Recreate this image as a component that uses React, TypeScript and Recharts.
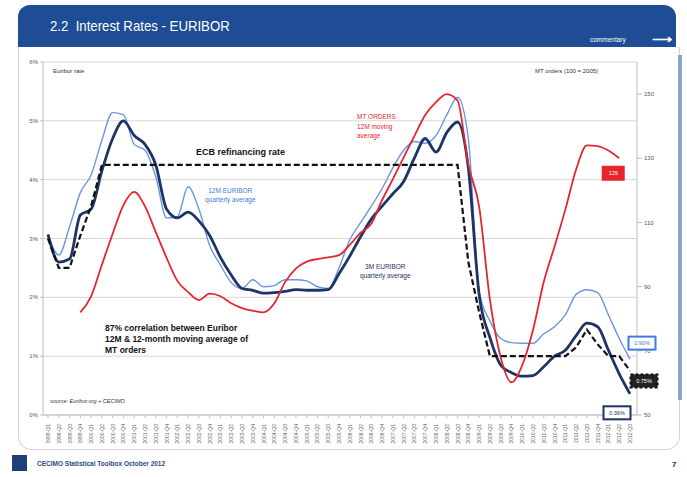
import React from "react";
import { LineChart, Line, XAxis, YAxis, CartesianGrid } from "recharts";

// quarterly averages, 1999-Q1 .. 2012-Q3
const quarters = [
  "1999-Q1", "1999-Q2", "1999-Q3", "1999-Q4",
  "2000-Q1", "2000-Q2", "2000-Q3", "2000-Q4",
  "2001-Q1", "2001-Q2", "2001-Q3", "2001-Q4",
  "2002-Q1", "2002-Q2", "2002-Q3", "2002-Q4",
  "2003-Q1", "2003-Q2", "2003-Q3", "2003-Q4",
  "2004-Q1", "2004-Q2", "2004-Q3", "2004-Q4",
  "2005-Q1", "2005-Q2", "2005-Q3", "2005-Q4",
  "2006-Q1", "2006-Q2", "2006-Q3", "2006-Q4",
  "2007-Q1", "2007-Q2", "2007-Q3", "2007-Q4",
  "2008-Q1", "2008-Q2", "2008-Q3", "2008-Q4",
  "2009-Q1", "2009-Q2", "2009-Q3", "2009-Q4",
  "2010-Q1", "2010-Q2", "2010-Q3", "2010-Q4",
  "2011-Q1", "2011-Q2", "2011-Q3", "2011-Q4",
  "2012-Q1", "2012-Q2", "2012-Q3",
];

const euribor3m = [
  3.07, 2.6, 2.65, 3.4, 3.5, 4.15, 4.7, 5.0, 4.75, 4.6,
  4.25, 3.5, 3.35, 3.45, 3.3, 3.05, 2.68, 2.38, 2.15, 2.12,
  2.07, 2.08, 2.1, 2.13, 2.12, 2.12, 2.13, 2.4, 2.7, 3.03,
  3.33, 3.55, 3.76, 3.97, 4.37, 4.7, 4.47, 4.8, 4.98, 4.2,
  2.05, 1.32, 0.85, 0.72, 0.66, 0.67, 0.82, 1.0, 1.1, 1.35,
  1.56, 1.5, 1.1, 0.7, 0.36,
];

const euribor12m = [
  3.05, 2.72, 3.2, 3.78, 4.08, 4.67, 5.14, 5.1, 4.6, 4.5,
  4.05, 3.35, 3.37, 3.88, 3.5, 2.88, 2.55, 2.25, 2.15, 2.3,
  2.18, 2.2, 2.3, 2.3, 2.28, 2.18, 2.15, 2.5, 2.98, 3.27,
  3.55, 3.85, 4.2, 4.5, 4.65, 4.62, 4.75, 5.1, 5.4, 4.7,
  2.1, 1.6, 1.3, 1.23, 1.22, 1.22, 1.38, 1.5, 1.7, 2.05,
  2.13, 2.08, 1.7, 1.3, 0.95,
];

const ecbRate = [
  3.0, 2.5, 2.5, 3.05, 3.55, 4.25, 4.25, 4.25, 4.25, 4.25,
  4.25, 4.25, 4.25, 4.25, 4.25, 4.25, 4.25, 4.25, 4.25, 4.25,
  4.25, 4.25, 4.25, 4.25, 4.25, 4.25, 4.25, 4.25, 4.25, 4.25,
  4.25, 4.25, 4.25, 4.25, 4.25, 4.25, 4.25, 4.25, 4.25, 2.6,
  1.75, 1.0, 1.0, 1.0, 1.0, 1.0, 1.0, 1.0, 1.0, 1.15,
  1.45, 1.2, 1.0, 1.0, 0.75,
];

// MT orders, 12M moving average (100 = 2005)
const mtOrders = [
  null, null, null, 82, 87, 96.8, 106.5, 115.4, 119.5, 115,
  107, 99, 91.8, 88.3, 85.8, 87.8, 87, 84.8, 83.3, 82.5,
  82, 84.8, 91.4, 95.6, 97.8, 98.6, 99.1, 99.8, 103, 106.8,
  109.6, 117, 123.5, 130.3, 137, 143.5, 147.5, 150, 148, 128,
  115, 86, 68, 60.2, 65.5, 76.5, 91.5, 102.5, 114, 126.5,
  134, 133.8, 132.4, 130, null,
];

const leftTicks = [0, 1, 2, 3, 4, 5, 6];
const rightTicks = [50, 70, 90, 110, 130, 150];

const data = quarters.map((q, i) => ({
  q,
  e3: euribor3m[i],
  e12: euribor12m[i],
  ecb: ecbRate[i],
  mt: mtOrders[i],
}));

const FONT = "'Liberation Sans', Arial, sans-serif";
const NAVY = "#1c3466";
const LIGHT = "#6a97e0";
const RED = "#e5262f";

// little value box at the end of a series
function endBox(
  idx: number,
  text: string,
  dx: number,
  dy: number,
  w: number,
  stroke: string,
  fill: string,
  color: string,
  dashed?: boolean
) {
  return (props: any) => {
    const { x, y, index } = props;
    if (index !== idx || x == null || y == null) return <g key={`e-${index}`} />;
    const h = 13;
    return (
      <g key={`e-${index}`}>
        <rect
          x={x + dx - w / 2}
          y={y + dy - h / 2}
          width={w}
          height={h}
          fill={fill}
          stroke={stroke}
          strokeWidth={2}
          strokeDasharray={dashed ? "3 2" : undefined}
        />
        <text
          x={x + dx}
          y={y + dy + 2}
          textAnchor="middle"
          fontSize={5.5}
          fontFamily={FONT}
          fill={color}
        >
          {text}
        </text>
      </g>
    );
  };
}

function QuarterTick(props: any) {
  const { x, y, payload } = props;
  return (
    <text
      x={x}
      y={y + 4}
      transform={`rotate(-90, ${x}, ${y + 4})`}
      textAnchor="end"
      dominantBaseline="central"
      fontSize={5}
      fontFamily={FONT}
      fill="#666"
    >
      {payload.value}
    </text>
  );
}

const txt = (extra: React.CSSProperties): React.CSSProperties => ({
  position: "absolute",
  fontFamily: FONT,
  whiteSpace: "nowrap",
  ...extra,
});

export default function App() {
  return (
    <div
      style={{
        position: "absolute",
        left: 0,
        top: 0,
        width: 687,
        height: 477,
        background: "#fff",
        overflow: "hidden",
      }}
    >
      {/* slide header */}
      <div
        style={{
          position: "absolute",
          left: 18,
          top: 5,
          width: 658,
          height: 42,
          background: "#1e4d95",
          borderRadius: "12px 12px 0 0",
        }}
      />
      <div
        style={txt({
          left: 50,
          top: 17,
          fontSize: 15,
          color: "#fff",
          transform: "scaleX(0.88)",
          transformOrigin: "left top",
        })}
      >
        2.2&nbsp; Interest Rates - EURIBOR
      </div>
      <div style={txt({ left: 590, top: 36, fontSize: 6.5, color: "#fff" })}>commentary</div>
      <div style={txt({ left: 652, top: 31, fontSize: 14, color: "#fff", fontWeight: "bold" })}>⟶</div>

      {/* content panel */}
      <div
        style={{
          position: "absolute",
          left: 18,
          top: 47,
          width: 660,
          height: 402,
          border: "1px solid #d4d4d4",
          borderTop: "none",
          borderRadius: "0 0 14px 14px",
        }}
      />
      <div
        style={{
          position: "absolute",
          left: 678,
          top: 55,
          width: 4,
          height: 345,
          background: "#8aa3c9",
        }}
      />

      <div style={{ position: "absolute", left: 0, top: 0 }}>
        <LineChart
          width={687}
          height={477}
          data={data}
          margin={{ top: 62, right: 0, bottom: 0, left: 0 }}
        >
          <CartesianGrid yAxisId="left" vertical={false} stroke="#d6d6d6" />
          <XAxis
            dataKey="q"
            interval={0}
            padding={{ left: 5, right: 7 }}
            height={62}
            tick={<QuarterTick />}
            tickSize={3}
            stroke="#bdbdbd"
          />
          <YAxis
            yAxisId="left"
            width={43}
            domain={[0, 6]}
            ticks={leftTicks}
            tickFormatter={(v) => `${v}%`}
            tick={{ fontSize: 6, fill: "#555", fontFamily: FONT }}
            tickSize={3}
            stroke="#bdbdbd"
          />
          <YAxis
            yAxisId="right"
            orientation="right"
            width={50}
            domain={[50, 160]}
            ticks={rightTicks}
            tick={{ fontSize: 6, fill: "#555", fontFamily: FONT, textAnchor: "start" }}
            tickSize={5}
            stroke="#bdbdbd"
          />
          <Line
            yAxisId="left"
            dataKey="e12"
            type="monotone"
            stroke={LIGHT}
            strokeWidth={1.4}
            dot={false}
            isAnimationActive={false}
            label={endBox(54, "0.90%", 12, -16, 27, "#3d7be0", "#fff", "#3d7be0")}
          />
          <Line
            yAxisId="left"
            dataKey="e3"
            type="monotone"
            stroke={NAVY}
            strokeWidth={2.8}
            dot={false}
            isAnimationActive={false}
            label={endBox(54, "0.36%", -13, 19, 27, NAVY, "#fff", NAVY)}
          />
          <Line
            yAxisId="left"
            dataKey="ecb"
            type="linear"
            stroke="#111"
            strokeWidth={2.2}
            strokeDasharray="6 3"
            dot={false}
            isAnimationActive={false}
            label={endBox(54, "0.75%", 14, 10, 27, "#111", "#222", "#fff", true)}
          />
          <Line
            yAxisId="right"
            dataKey="mt"
            type="monotone"
            stroke={RED}
            strokeWidth={1.8}
            dot={false}
            connectNulls={false}
            isAnimationActive={false}
            label={endBox(53, "129", -6, 15, 21, RED, RED, "#fff")}
          />
        </LineChart>
      </div>

      {/* chart annotations */}
      <div style={txt({ left: 53, top: 68, fontSize: 6, color: "#333" })}>Euribor rate</div>
      <div style={txt({ left: 535, top: 68, fontSize: 6, color: "#333" })}>MT orders (100 = 2005)</div>
      <div style={txt({ left: 196, top: 147, fontSize: 9, fontWeight: "bold", color: "#111" })}>
        ECB refinancing rate
      </div>
      <div
        style={txt({ left: 205, top: 186, fontSize: 6.5, lineHeight: "9px", color: "#3d7be0", textAlign: "center" })}
      >
        12M EURIBOR
        <br />
        quarterly average
      </div>
      <div
        style={txt({ left: 360, top: 262, fontSize: 6.5, lineHeight: "9px", color: NAVY, textAlign: "center" })}
      >
        3M EURIBOR
        <br />
        quarterly average
      </div>
      <div style={txt({ left: 357, top: 112, fontSize: 6.5, lineHeight: "9.5px", color: RED })}>
        MT ORDERS
        <br />
        12M moving
        <br />
        average
      </div>
      <div
        style={txt({ left: 105, top: 323, fontSize: 8.5, lineHeight: "11px", fontWeight: "bold", color: "#111" })}
      >
        87% correlation between Euribor
        <br />
        12M &amp; 12-month moving average of
        <br />
        MT orders
      </div>
      <div style={txt({ left: 50, top: 398, fontSize: 5.5, fontStyle: "italic", color: "#333" })}>
        source: Euribor.org + CECIMO
      </div>

      {/* footer */}
      <div style={{ position: "absolute", left: 12, top: 455, width: 15, height: 16, background: "#1f3f7a" }} />
      <div style={txt({ left: 37, top: 460, fontSize: 6.5, fontWeight: "bold", color: "#2a4a85" })}>
        CECIMO Statistical Toolbox October 2012
      </div>
      <div style={txt({ left: 672, top: 460, fontSize: 8, fontWeight: "bold", color: "#333" })}>7</div>
    </div>
  );
}
